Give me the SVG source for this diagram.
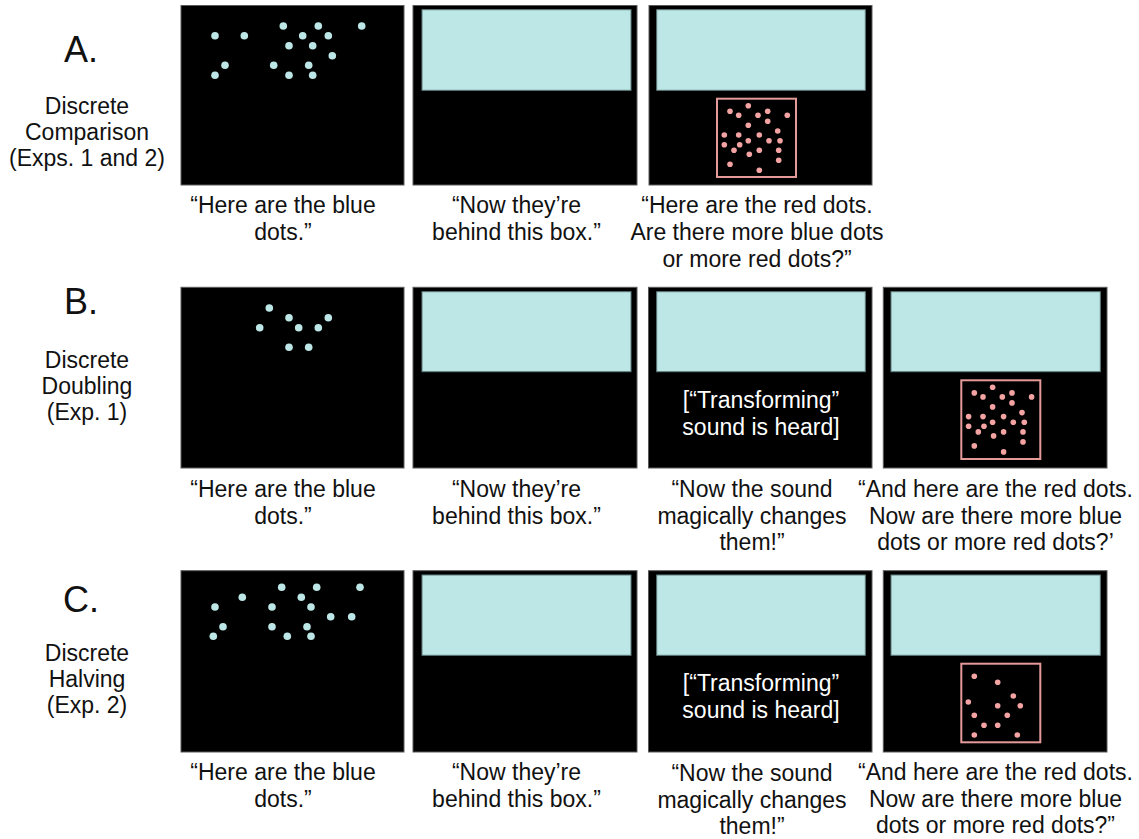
<svg xmlns="http://www.w3.org/2000/svg" xmlns:xlink="http://www.w3.org/1999/xlink" width="1139" height="839" viewBox="0 0 1139 839">
<style>
.bg{fill:#ffffff}
.panel{fill:#000000;stroke:#5a5a5a;stroke-width:1}
.cover{fill:#bde6e7;stroke:#5f7c7c;stroke-width:1}
.rbox{fill:none;stroke:#e59a9a;stroke-width:2}
.bd{fill:#bde6e7}
.rd{fill:#f4a3a3}
text{font-family:"Liberation Sans",Arial,Helvetica,sans-serif;fill:#111111;text-anchor:middle}
.cap{font-size:23px}
.lbl{font-size:23px}
.big{font-size:36px}
.inner{font-size:23px;fill:#ffffff}
</style>
<defs>
<g id="reddots" class="rd">
<circle cx="31.3" cy="7" r="2.8"/><circle cx="13" cy="12.6" r="2.8"/><circle cx="50.7" cy="12.6" r="2.8"/>
<circle cx="21.7" cy="16.6" r="2.8"/><circle cx="41" cy="16.6" r="2.8"/><circle cx="70.3" cy="16.6" r="2.8"/>
<circle cx="50.7" cy="22.6" r="2.8"/><circle cx="31.3" cy="26.6" r="2.8"/><circle cx="60.7" cy="32.3" r="2.8"/>
<circle cx="7.3" cy="36.3" r="2.8"/><circle cx="21.7" cy="36.3" r="2.8"/><circle cx="42.3" cy="36.3" r="2.8"/>
<circle cx="31.3" cy="42" r="2.8"/><circle cx="52" cy="42" r="2.8"/><circle cx="63" cy="42" r="2.8"/>
<circle cx="7.3" cy="46" r="2.8"/><circle cx="22.7" cy="46" r="2.8"/><circle cx="17" cy="51.6" r="2.8"/>
<circle cx="42.3" cy="51.6" r="2.8"/><circle cx="61.7" cy="51.6" r="2.8"/><circle cx="32.3" cy="55.6" r="2.8"/>
<circle cx="61.7" cy="61.6" r="2.8"/><circle cx="13" cy="65.6" r="2.8"/><circle cx="42.3" cy="71.6" r="2.8"/>
</g>
</defs>
<rect class="bg" x="0" y="0" width="1139" height="839"/>

<!-- Row labels -->
<g id="labelA">
<text class="big" x="81" y="62">A.</text>
<text class="lbl" x="87" y="114">Discrete</text>
<text class="lbl" x="87" y="140">Comparison</text>
<text class="lbl" x="87" y="166">(Exps. 1 and 2)</text>
</g>
<g id="labelB">
<text class="big" x="81" y="314">B.</text>
<text class="lbl" x="87" y="368">Discrete</text>
<text class="lbl" x="87" y="394">Doubling</text>
<text class="lbl" x="87" y="420">(Exp. 1)</text>
</g>
<g id="labelC">
<text class="big" x="81" y="612">C.</text>
<text class="lbl" x="87" y="661">Discrete</text>
<text class="lbl" x="87" y="687">Halving</text>
<text class="lbl" x="87" y="713">(Exp. 2)</text>
</g>

<!-- Row A -->
<g id="A1">
<rect class="panel" x="181" y="5.5" width="223" height="179.5"/>
<g class="bd">
<circle cx="283.3" cy="26" r="3.8"/><circle cx="318.3" cy="26" r="3.8"/><circle cx="361.7" cy="26" r="3.8"/>
<circle cx="215" cy="35.7" r="3.8"/><circle cx="244.3" cy="35.7" r="3.8"/><circle cx="302.7" cy="35.7" r="3.8"/><circle cx="328.3" cy="35.7" r="3.8"/>
<circle cx="289" cy="45.7" r="3.8"/><circle cx="312.7" cy="45.7" r="3.8"/><circle cx="332.3" cy="55.7" r="3.8"/>
<circle cx="225" cy="65.3" r="3.8"/><circle cx="273.7" cy="65.3" r="3.8"/><circle cx="308.7" cy="65.3" r="3.8"/>
<circle cx="215" cy="75.3" r="3.8"/><circle cx="289" cy="75.3" r="3.8"/><circle cx="312.7" cy="75.3" r="3.8"/>
</g>
<text class="cap" x="283" y="213">“Here are the blue</text>
<text class="cap" x="283" y="240">dots.”</text>
</g>
<g id="A2">
<rect class="panel" x="413" y="5.5" width="224" height="179.5"/>
<rect class="cover" x="422" y="9.7" width="209" height="80.6"/>
<text class="cap" x="516.5" y="213">“Now they’re</text>
<text class="cap" x="516.5" y="240">behind this box.”</text>
</g>
<g id="A3">
<rect class="panel" x="649" y="5.5" width="223" height="179.5"/>
<rect class="cover" x="656.7" y="9.7" width="208.6" height="80.6"/>
<rect class="rbox" x="717" y="98.7" width="79" height="78.3"/>
<use xlink:href="#reddots" href="#reddots" transform="translate(717,98.7)"/>
<text class="cap" x="757" y="213">“Here are the red dots.</text>
<text class="cap" x="757" y="240">Are there more blue dots</text>
<text class="cap" x="757" y="267">or more red dots?”</text>
</g>

<!-- Row B -->
<g id="B1">
<rect class="panel" x="181" y="287.3" width="223" height="180.7"/>
<g class="bd">
<circle cx="269.3" cy="308" r="3.8"/><circle cx="289" cy="317.7" r="3.8"/><circle cx="328.3" cy="317.7" r="3.8"/>
<circle cx="259.7" cy="327.7" r="3.8"/><circle cx="298.7" cy="327.7" r="3.8"/><circle cx="318.3" cy="327.7" r="3.8"/>
<circle cx="289" cy="347.3" r="3.8"/><circle cx="308.7" cy="347.3" r="3.8"/>
</g>
<text class="cap" x="283" y="497">“Here are the blue</text>
<text class="cap" x="283" y="524">dots.”</text>
</g>
<g id="B2">
<rect class="panel" x="413" y="287.3" width="224" height="180.7"/>
<rect class="cover" x="422" y="291.7" width="209" height="80"/>
<text class="cap" x="516.5" y="497">“Now they’re</text>
<text class="cap" x="516.5" y="524">behind this box.”</text>
</g>
<g id="B3">
<rect class="panel" x="648.5" y="287.3" width="223.5" height="180.7"/>
<rect class="cover" x="656.7" y="291.7" width="208.6" height="80"/>
<text class="inner" x="761" y="408">[“Transforming”</text>
<text class="inner" x="761" y="435">sound is heard]</text>
<text class="cap" x="752" y="497">“Now the sound</text>
<text class="cap" x="752" y="524">magically changes</text>
<text class="cap" x="752" y="550">them!”</text>
</g>
<g id="B4">
<rect class="panel" x="883.3" y="287.3" width="223.7" height="180.7"/>
<rect class="cover" x="891" y="291.7" width="209.3" height="80"/>
<rect class="rbox" x="961.3" y="380.3" width="79" height="78.7"/>
<use xlink:href="#reddots" href="#reddots" transform="translate(961.3,380.3)"/>
<text class="cap" x="995.5" y="497">“And here are the red dots.</text>
<text class="cap" x="995.5" y="524">Now are there more blue</text>
<text class="cap" x="995.5" y="550">dots or more red dots?’</text>
</g>

<!-- Row C -->
<g id="C1">
<rect class="panel" x="181" y="570.7" width="223" height="181.3"/>
<g class="bd">
<circle cx="281.7" cy="587.3" r="3.8"/><circle cx="316.7" cy="587.3" r="3.8"/><circle cx="360" cy="587.3" r="3.8"/>
<circle cx="242.3" cy="597.3" r="3.8"/><circle cx="301.3" cy="597.3" r="3.8"/>
<circle cx="215" cy="607" r="3.8"/><circle cx="272" cy="607" r="3.8"/><circle cx="311" cy="607" r="3.8"/>
<circle cx="330.7" cy="616.7" r="3.8"/><circle cx="351.7" cy="616.7" r="3.8"/>
<circle cx="223" cy="626.7" r="3.8"/><circle cx="272" cy="626.7" r="3.8"/><circle cx="307" cy="626.7" r="3.8"/>
<circle cx="213.3" cy="636.3" r="3.8"/><circle cx="287.3" cy="636.3" r="3.8"/><circle cx="311" cy="636.3" r="3.8"/>
</g>
<text class="cap" x="283" y="780">“Here are the blue</text>
<text class="cap" x="283" y="807">dots.”</text>
</g>
<g id="C2">
<rect class="panel" x="413" y="570.7" width="224" height="181.3"/>
<rect class="cover" x="422" y="575" width="209" height="80.3"/>
<text class="cap" x="516.5" y="780">“Now they’re</text>
<text class="cap" x="516.5" y="807">behind this box.”</text>
</g>
<g id="C3">
<rect class="panel" x="648.5" y="570.7" width="223.5" height="181.3"/>
<rect class="cover" x="656.7" y="575" width="208.6" height="80.3"/>
<text class="inner" x="761" y="691">[“Transforming”</text>
<text class="inner" x="761" y="718">sound is heard]</text>
<text class="cap" x="752" y="781">“Now the sound</text>
<text class="cap" x="752" y="808">magically changes</text>
<text class="cap" x="752" y="834">them!”</text>
</g>
<g id="C4">
<rect class="panel" x="883.3" y="570.7" width="223.7" height="181.3"/>
<rect class="cover" x="891" y="575" width="209.3" height="80.3"/>
<rect class="rbox" x="961.3" y="663.7" width="79" height="78.6"/>
<g class="rd">
<circle cx="974.3" cy="676.3" r="2.8"/><circle cx="997.7" cy="682.3" r="2.8"/><circle cx="1013.3" cy="696" r="2.8"/>
<circle cx="968.3" cy="702" r="2.8"/><circle cx="997.7" cy="705.7" r="2.8"/><circle cx="1020.3" cy="705.7" r="2.8"/>
<circle cx="974.3" cy="715.3" r="2.8"/><circle cx="1007.3" cy="715.3" r="2.8"/>
<circle cx="984" cy="725.3" r="2.8"/><circle cx="997.7" cy="725.3" r="2.8"/>
<circle cx="974.3" cy="735" r="2.8"/><circle cx="1017.3" cy="735" r="2.8"/>
</g>
<text class="cap" x="995.5" y="780">“And here are the red dots.</text>
<text class="cap" x="995.5" y="807">Now are there more blue</text>
<text class="cap" x="995.5" y="833">dots or more red dots?”</text>
</g>
</svg>
